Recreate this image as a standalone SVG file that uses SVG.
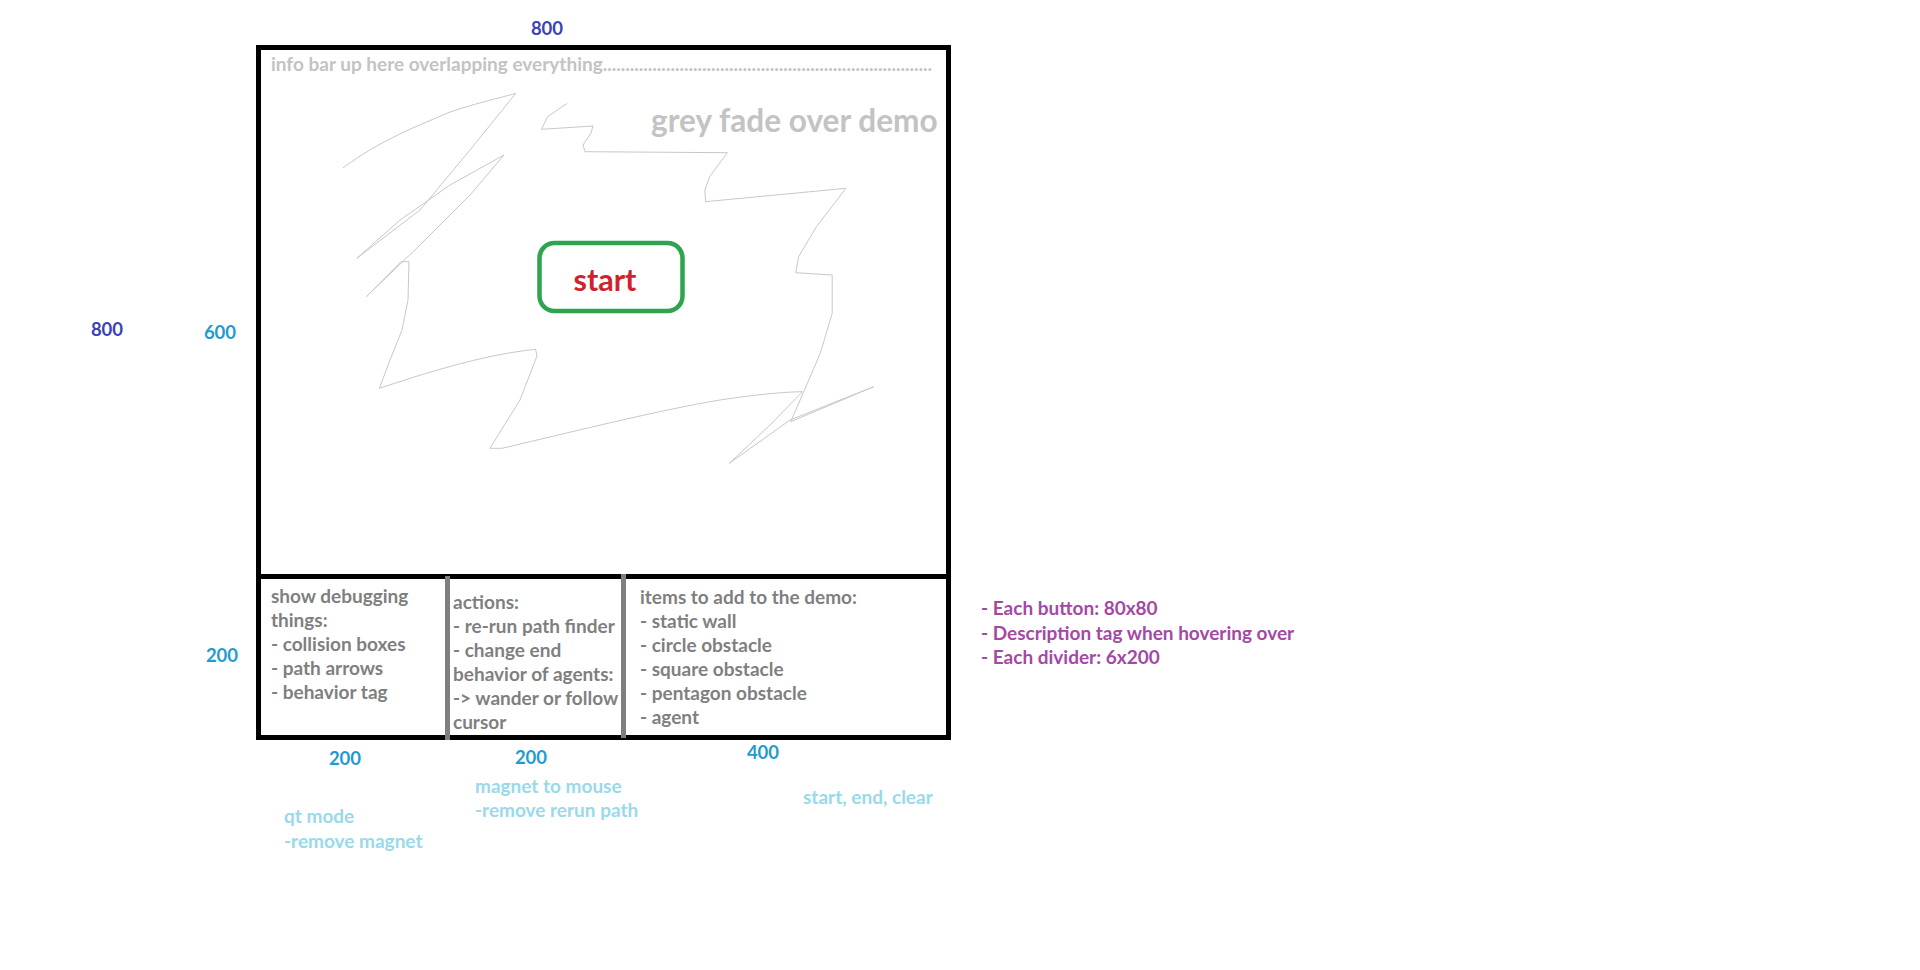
<svg xmlns="http://www.w3.org/2000/svg" width="1920" height="970" viewBox="0 0 1920 970">
<style>
text{font-family:Lato,"Liberation Sans",sans-serif;font-weight:bold}
.g{fill:#7f7f7f;font-size:19px}
.lg{fill:#c3c3c3}
.num{font-size:18.5px;text-anchor:middle}
.ind{fill:#3a43b5}
.tq{fill:#1f9bd1}
.lb{fill:#99d9ea;font-size:19px}
.pu{fill:#a349a4;font-size:19px}
.sq{fill:none;stroke:#c8c8c8;stroke-width:1;stroke-linejoin:round}
</style>
<rect width="1920" height="970" fill="#ffffff"/>
<g id="demo-scribble">
<path class="sq" d="M342.9,168 C380,140 420,125 450,112 C480,102 500,98 515.8,93.3 L470,150 L420,210 L356.9,258.3 L400,220 L450,185 L504,155 L470,195 L420,245 L366.4,296.7 L401,261.7 L409,261.7 L408,300 L402,330 L390,360 L379.4,388.3 C420,375 480,355 535.6,349.3 L537,356 L520,400 L490,448.3 L502,448.3 C580,430 660,410 720,400 C760,394 785,392 802.5,391.7 L770,425 L729.4,463.3 L790,420 L873.7,386.7 L790.7,421.7 L804.5,390 L820.3,353.3 L832.2,313.3 L832.2,275 L795.8,272.7 L798.6,256.7 L816.4,226.7 L846,188.3 L705.6,201.7 L704.8,190 L709.6,176.7 L727.4,152.7 L585,151.7 L583,145 L591,133 L593,126 L541.5,129.3 L547.5,116.7 L567.2,103.3"/>
</g>
<g id="frame">
<rect x="258.5" y="47.5" width="690" height="690" fill="none" stroke="#000" stroke-width="5"/>
<line x1="256" y1="576.5" x2="951" y2="576.5" stroke="#000" stroke-width="5"/>
</g>
<g id="dividers">
<line x1="447.5" y1="576" x2="447.5" y2="740" stroke="#7f7f7f" stroke-width="5"/>
<line x1="623.5" y1="574" x2="623.5" y2="738" stroke="#7f7f7f" stroke-width="5"/>
</g>
<g id="info-bar">
<text class="lg" x="271" y="71" font-size="19">info bar up here overlapping everything.........................................................................</text>
</g>
<g id="fade-label">
<text class="lg" x="651" y="132" font-size="31.6">grey fade over demo</text>
</g>
<g id="start-button">
<rect x="539.5" y="243" width="143" height="68" rx="15" fill="#fff" stroke="#2ea44f" stroke-width="4.5"/>
<text x="605" y="290.5" font-size="30.5" fill="#d0222a" text-anchor="middle">start</text>
</g>
<g id="panel-debug">
<text class="g" x="271" y="602.5">show debugging</text>
<text class="g" x="271" y="626.5">things:</text>
<text class="g" x="271" y="650.5">- collision boxes</text>
<text class="g" x="271" y="674.5">- path arrows</text>
<text class="g" x="271" y="698.5">- behavior tag</text>
</g>
<g id="panel-actions">
<text class="g" x="453" y="608.5">actions:</text>
<text class="g" x="453" y="632.5">- re-run path finder</text>
<text class="g" x="453" y="656.5">- change end</text>
<text class="g" x="453" y="680.5">behavior of agents:</text>
<text class="g" x="453" y="704.5">-&gt; wander or follow</text>
<text class="g" x="453" y="728.5">cursor</text>
</g>
<g id="panel-items">
<text class="g" x="640" y="603.5">items to add to the demo:</text>
<text class="g" x="640" y="627.5">- static wall</text>
<text class="g" x="640" y="651.5">- circle obstacle</text>
<text class="g" x="640" y="675.5">- square obstacle</text>
<text class="g" x="640" y="699.5">- pentagon obstacle</text>
<text class="g" x="640" y="723.5">- agent</text>
</g>
<g id="dimensions">
<text class="num ind" x="547" y="34.5">800</text>
<text class="num ind" x="107" y="335.5">800</text>
<text class="num tq" x="220" y="338.5">600</text>
<text class="num tq" x="222" y="661.5">200</text>
<text class="num tq" x="345" y="764.5">200</text>
<text class="num tq" x="531" y="763.5">200</text>
<text class="num tq" x="763" y="758.5">400</text>
</g>
<g id="notes">
<text class="pu" x="981" y="614.5">- Each button: 80x80</text>
<text class="pu" x="981" y="639.5">- Description tag when hovering over</text>
<text class="pu" x="981" y="663.5">- Each divider: 6x200</text>
</g>
<g id="revisions">
<text class="lb" x="475" y="792.5">magnet to mouse</text>
<text class="lb" x="475" y="816.5">-remove rerun path</text>
<text class="lb" x="284" y="822.5">qt mode</text>
<text class="lb" x="284" y="847.5">-remove magnet</text>
<text class="lb" x="803" y="803.5">start, end, clear</text>
</g>
</svg>
